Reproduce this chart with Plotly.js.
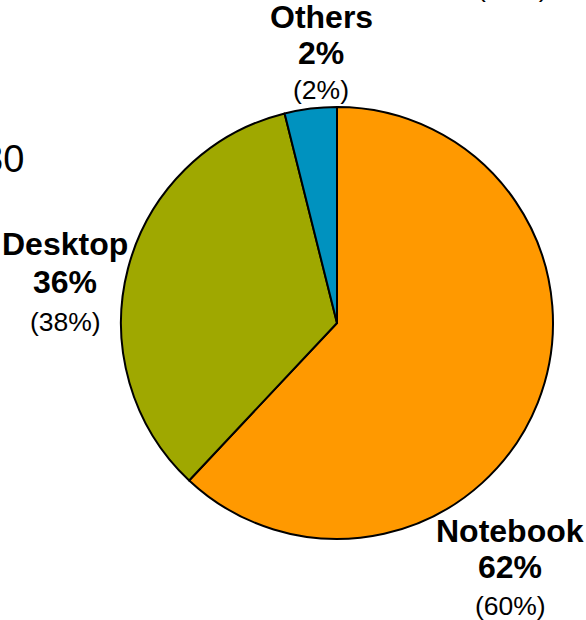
<!DOCTYPE html>
<html>
<head>
<meta charset="utf-8">
<script src="https://cdn.plot.ly/plotly-3.0.1.min.js"></script>
<style>html,body{margin:0;padding:0;background:#fff;}#chart{width:586px;height:620px;}</style>
</head>
<body>
<div id="chart"></div>
<script>
// Data
const categories = ["Notebook", "Desktop", "Others"];
const sliceValues = [62.0, 34.1, 3.9];          // slice sizes as drawn
const shareLabels = ["62%", "36%", "2%"];       // bold share labels
const prevShareLabels = ["(60%)", "(38%)", "(2%)"]; // bracketed share labels
const colors = ["#FF9900", "#9FA800", "#0092BF"];

const W = 586, H = 620;
const px = x => x / W;
const py = y => 1 - y / H;

// label centre positions in pixels (layout only)
const labelPos = [
  {x: 510, y: [531, 567, 606]},
  {x: 65,  y: [244, 282, 322]},
  {x: 321, y: [17, 53, 90]}
];

const FONT = "Liberation Sans, Arial, Helvetica, sans-serif";
const annotations = [];
categories.forEach((c, i) => {
  const p = labelPos[i];
  const lines = [
    {t: "<b>" + c + "</b>", s: 32},
    {t: "<b>" + shareLabels[i] + "</b>", s: 32},
    {t: prevShareLabels[i], s: 26.5}
  ];
  lines.forEach((l, j) => {
    annotations.push({
      xref: "paper", yref: "paper", x: px(p.x), y: py(p.y[j]),
      xanchor: "center", yanchor: "middle", showarrow: false,
      text: l.t, font: {family: FONT, size: l.s, color: "#000"}
    });
  });
});
// fragments of neighbouring content cut by the frame
annotations.push({xref: "paper", yref: "paper", x: px(26), y: py(159), xanchor: "right", yanchor: "middle",
  showarrow: false, text: "30", font: {family: FONT, size: 38, color: "#000"}});
annotations.push({xref: "paper", yref: "paper", x: px(512), y: py(-12), xanchor: "center", yanchor: "middle",
  showarrow: false, text: "(12%)", font: {family: FONT, size: 26.5, color: "#000"}});

const trace = {
  type: "pie",
  labels: categories,
  values: sliceValues,
  sort: false,
  direction: "clockwise",
  rotation: 0,
  textinfo: "none",
  hoverinfo: "label+percent",
  marker: {colors: colors, line: {color: "#000", width: 2}},
  domain: {x: [px(121), px(553)], y: [py(539), py(107)]},
  showlegend: false
};

Plotly.newPlot("chart", [trace], {
  width: W, height: H,
  margin: {l: 0, r: 0, t: 0, b: 0},
  paper_bgcolor: "#fff",
  showlegend: false,
  annotations: annotations
}, {displayModeBar: false, staticPlot: true});
</script>
</body>
</html>
